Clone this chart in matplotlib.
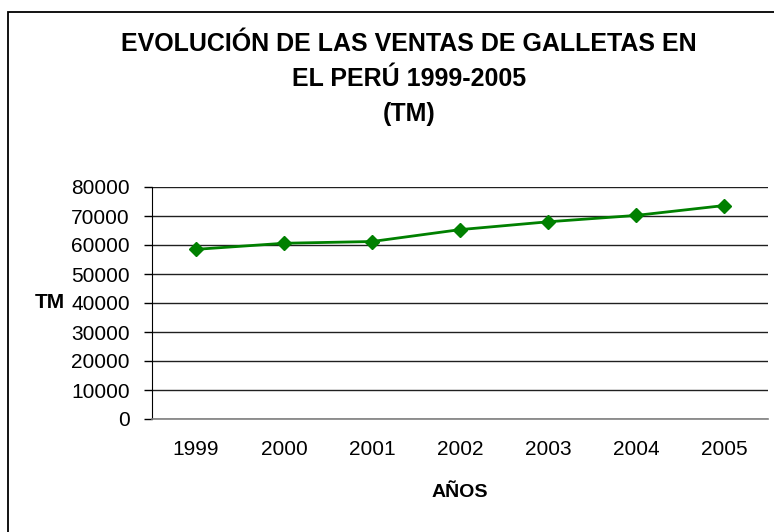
import matplotlib
matplotlib.use("Agg")
import matplotlib.pyplot as plt
from matplotlib.patches import Rectangle

# Data
years = ["1999", "2000", "2001", "2002", "2003", "2004", "2005"]
ventas_tm = [58500, 60600, 61200, 65300, 68000, 70200, 73600]
y_ticks = [0, 10000, 20000, 30000, 40000, 50000, 60000, 70000, 80000]

TITLE = "EVOLUCIÓN DE LAS VENTAS DE GALLETAS EN\nEL PERÚ 1999-2005\n(TM)"
LINE_COLOR = "#008000"
FONT = "Liberation Sans"

plt.rcParams["font.family"] = [FONT, "DejaVu Sans"]

fig = plt.figure(figsize=(7.74, 5.32), dpi=100)
fig.set_facecolor("white")

# outer chart frame (runs off the right/bottom edge like the original)
fig.patches.append(Rectangle((8 / 774, -0.05), 1.0, 1 - 12 / 532 + 0.05,
                             transform=fig.transFigure, fill=False,
                             edgecolor="black", linewidth=1.3))

ax = fig.add_axes([152 / 774, 113 / 532, 616 / 774, 232 / 532])
ax.set_facecolor("white")

x = range(len(years))
ax.plot(x, ventas_tm, color=LINE_COLOR, linewidth=2, marker="D", markersize=7,
        markerfacecolor=LINE_COLOR, markeredgecolor=LINE_COLOR, zorder=3)

ax.set_xlim(-0.5, len(years) - 0.5)
ax.set_ylim(0, 80000)
ax.set_yticks(y_ticks)
ax.set_yticklabels([str(v) for v in y_ticks])
ax.set_xticks(list(x))
ax.set_xticklabels(years)

ax.yaxis.grid(True, color="#202020", linewidth=1)
ax.set_axisbelow(True)
for s in ["top", "right"]:
    ax.spines[s].set_visible(False)
ax.spines["left"].set_color("black")
ax.spines["bottom"].set_color("#808080")
ax.spines["bottom"].set_linewidth(1.2)

ax.tick_params(axis="y", length=6, width=1, color="black", labelsize=15, pad=10)
ax.tick_params(axis="x", length=0, labelsize=15, pad=15)

ax.set_xlabel("AÑOS", fontsize=14, fontweight="bold", labelpad=18)
ax.set_ylabel("TM", fontsize=15, fontweight="bold", rotation=0,
              va="center", ha="center")
ax.yaxis.set_label_coords(-0.166, 0.5)

fig.text(409 / 774, 1 - 79 / 532, TITLE, ha="center", va="center",
         fontsize=18, fontweight="bold", linespacing=1.58)

fig.savefig("out.png", dpi=100, facecolor=fig.get_facecolor())
